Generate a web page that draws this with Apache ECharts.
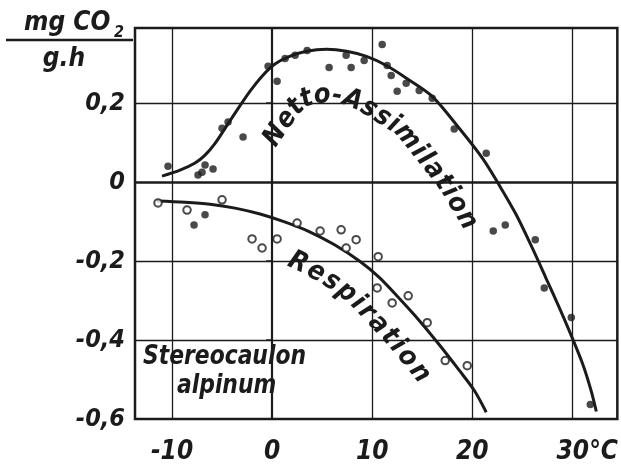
<!DOCTYPE html>
<html>
<head>
<meta charset="utf-8">
<script src="https://cdn.jsdelivr.net/npm/echarts@6/dist/echarts.min.js"></script>
<style>
  html, body { margin: 0; padding: 0; background: #fff; }
  #chart { width: 621px; height: 476px; }
</style>
</head>
<body>
<div id="chart"></div>
<script>
// axis ticks
const xTicks = [-10, 0, 10, 20, 30];
const yTicks = [0.2, 0, -0.2, -0.4, -0.6];

// Netto-Assimilation, measured points (filled dots)
const nettoT = [-10.4, -7.4, -6.7, -5.9, -7.0, -5.0, -4.4, -2.9, -0.4, 0.5, 1.3, 2.3, 3.5, 5.7, 7.4, 7.9, 9.2, 11.0, 11.5, 11.9, 12.5, 13.4, 14.7, 16.0, 18.2, 21.4, 22.1, 23.3, 26.3, 27.2, 29.9, 31.8];
const nettoV = [0.040, 0.018, 0.043, 0.033, 0.025, 0.136, 0.152, 0.114, 0.293, 0.255, 0.313, 0.321, 0.333, 0.290, 0.321, 0.290, 0.308, 0.348, 0.295, 0.270, 0.230, 0.250, 0.232, 0.212, 0.134, 0.073, -0.124, -0.109, -0.146, -0.268, -0.343, -0.563];

// Netto-Assimilation, fitted curve
const nettoCurveT = [-11.0, -9.2, -7.7, -6.7, -5.7, -4.7, -3.5, -2.2, -1.0, 0.25, 1.75, 3.45, 5.44, 7.44, 9.43, 11.42, 13.42, 16.0, 18.7, 21.0, 22.7, 24.4, 26.0, 27.4, 28.7, 29.9, 31.1, 31.9, 32.4];
const nettoCurveV = [0.015, 0.030, 0.048, 0.068, 0.098, 0.136, 0.182, 0.230, 0.268, 0.298, 0.318, 0.331, 0.336, 0.331, 0.318, 0.295, 0.263, 0.217, 0.136, 0.061, -0.008, -0.083, -0.167, -0.245, -0.318, -0.389, -0.465, -0.530, -0.581];

// Respiration, measured points (open circles)
const respT = [-11.4, -8.5, -5.0, -2.0, -1.0, 0.5, 2.5, 4.8, 6.9, 8.4, 7.4, 10.6, 10.5, 12.0, 13.6, 15.5, 17.3, 19.5];
const respV = [-0.053, -0.071, -0.045, -0.144, -0.167, -0.144, -0.104, -0.124, -0.121, -0.146, -0.167, -0.189, -0.268, -0.306, -0.288, -0.356, -0.452, -0.465];
// Respiration, filled dots
const respFilledT = [-6.7, -7.8];
const respFilledV = [-0.083, -0.109];

// Respiration, fitted curve
const respCurveT = [-11.5, -8.7, -6.2, -3.7, -1.2, 1.25, 3.75, 6.24, 8.73, 10.73, 12.72, 14.72, 16.71, 18.71, 20.21, 21.4];
const respCurveV = [-0.048, -0.051, -0.056, -0.066, -0.081, -0.101, -0.126, -0.159, -0.200, -0.242, -0.295, -0.351, -0.412, -0.477, -0.528, -0.583];

const INK = '#1b1b1b';
const FONT = "'Liberation Sans Narrow', 'DejaVu Sans Condensed', 'Liberation Sans', sans-serif";

const zip = (a, b) => a.map((v, i) => [v, b[i]]);
const fmt = v => (v === 0 ? '0' : String(v).replace('.', ','));

const chart = echarts.init(document.getElementById('chart'));

const option = {
  animation: false,
  backgroundColor: '#fff',
  grid: {
    left: 135, right: 3, top: 28, bottom: 57,
    show: true, borderColor: INK, borderWidth: 2.5, backgroundColor: 'transparent'
  },
  xAxis: {
    type: 'value', min: -13.7, max: 34.5,
    axisLine: { show: false },
    splitLine: { show: false },
    axisTick: { show: true, customValues: [0], length: 8, lineStyle: { color: INK, width: 2 } },
    axisLabel: {
      customValues: xTicks, margin: 20,
      fontFamily: FONT, fontStyle: 'italic', fontWeight: 'bold', fontSize: 26, color: INK,
      formatter: v => (v === 30 ? '{u|30°C}' : fmt(v)),
      rich: { u: { fontFamily: FONT, fontStyle: 'italic', fontWeight: 'bold', fontSize: 26, color: INK, padding: [0, 0, 0, 30] } }
    }
  },
  yAxis: {
    type: 'value', min: -0.6, max: 0.39,
    axisLine: { show: false },
    splitLine: { show: false },
    axisTick: { show: true, customValues: [0.2, -0.2, -0.4], length: 6, lineStyle: { color: INK, width: 1.5 } },
    axisLabel: {
      customValues: yTicks, margin: 10,
      fontFamily: FONT, fontStyle: 'italic', fontWeight: 'bold', fontSize: 25, color: INK,
      formatter: fmt
    }
  },
  series: [
    {
      type: 'line', name: 'Netto-Assimilation', smooth: 0.3, showSymbol: false,
      data: zip(nettoCurveT, nettoCurveV),
      lineStyle: { color: INK, width: 3 },
      z: 3,
      markLine: {
        silent: true, symbol: 'none', label: { show: false },
        data: xTicks.map(v => ({ xAxis: v, lineStyle: { color: INK, type: 'solid', width: v === 0 ? 2.2 : 1.3 } }))
          .concat(yTicks.slice(0, 4).map(v => ({ yAxis: v, lineStyle: { color: INK, type: 'solid', width: v === 0 ? 2.6 : 1.3 } })))
      }
    },
    {
      type: 'line', name: 'Respiration', smooth: 0.3, showSymbol: false,
      data: zip(respCurveT, respCurveV),
      lineStyle: { color: INK, width: 3 },
      z: 3
    },
    {
      type: 'scatter', data: zip(nettoT, nettoV), symbolSize: 7.5,
      itemStyle: { color: INK }, z: 4
    },
    {
      type: 'scatter', data: zip(respFilledT, respFilledV), symbolSize: 7.5,
      itemStyle: { color: INK }, z: 4
    },
    {
      type: 'scatter', data: zip(respT, respV), symbolSize: 7.5,
      itemStyle: { color: '#fff', borderColor: INK, borderWidth: 2 }, z: 4
    }
  ]
};
chart.setOption(option);

// ---- lettering that follows the curves ----
const ctx = document.createElement('canvas').getContext('2d');

function densify(p, n) {
  const out = [];
  for (let i = 0; i < p.length - 1; i++) {
    const p0 = p[Math.max(i - 1, 0)], p1 = p[i], p2 = p[i + 1], p3 = p[Math.min(i + 2, p.length - 1)];
    for (let k = 0; k < n; k++) {
      const t = k / n, t2 = t * t, t3 = t2 * t;
      out.push([0, 1].map(j => 0.5 * ((2 * p1[j]) + (-p0[j] + p2[j]) * t +
        (2 * p0[j] - 5 * p1[j] + 4 * p2[j] - p3[j]) * t2 + (-p0[j] + 3 * p1[j] - 3 * p2[j] + p3[j]) * t3)));
    }
  }
  out.push(p[p.length - 1]);
  return out;
}

function curveText(T, V, text, startData, endData, offset, fontSize) {
  const px = densify(zip(T, V).map(d => chart.convertToPixel({ gridIndex: 0 }, d)), 20);
  const off = px.map((p, i) => {
    const a = px[Math.max(i - 3, 0)], b = px[Math.min(i + 3, px.length - 1)];
    const dx = b[0] - a[0], dy = b[1] - a[1], l = Math.hypot(dx, dy) || 1;
    return [p[0] - dy / l * offset, p[1] + dx / l * offset];
  });
  const s = [0];
  for (let i = 1; i < off.length; i++) s.push(s[i - 1] + Math.hypot(off[i][0] - off[i - 1][0], off[i][1] - off[i - 1][1]));
  const nearest = d => {
    const q = chart.convertToPixel({ gridIndex: 0 }, d);
    let bi = 0, bd = Infinity;
    off.forEach((p, i) => { const dd = Math.hypot(p[0] - q[0], p[1] - q[1]); if (dd < bd) { bd = dd; bi = i; } });
    return s[bi];
  };
  const at = len => {
    let i = 1;
    while (i < s.length - 1 && s[i] < len) i++;
    const a = off[Math.max(i - 4, 0)], b = off[Math.min(i + 3, off.length - 1)];
    const f = (len - s[i - 1]) / ((s[i] - s[i - 1]) || 1);
    const p = off[i - 1], q = off[i];
    return { x: p[0] + (q[0] - p[0]) * f, y: p[1] + (q[1] - p[1]) * f, ang: Math.atan2(b[1] - a[1], b[0] - a[0]) };
  };
  ctx.font = `italic bold ${fontSize}px ${FONT}`;
  const chars = text.split('');
  const w = chars.map(c => ctx.measureText(c).width);
  const s0 = nearest(startData), s1 = nearest(endData);
  const sumInner = w.reduce((a, b) => a + b, 0) - w[0] / 2 - w[w.length - 1] / 2;
  const gap = (s1 - s0 - sumInner) / (chars.length - 1);
  let cur = s0 - w[0] / 2;
  return chars.map((c, i) => {
    const p = at(cur + w[i] / 2);
    cur += w[i] + gap;
    return {
      type: 'text', x: p.x, y: p.y, rotation: -p.ang, silent: true, z: 10,
      style: { text: c, x: 0, y: 0, align: 'center', verticalAlign: 'middle',
        fontFamily: FONT, fontStyle: 'italic', fontWeight: 'bold', fontSize: fontSize, fill: INK }
    };
  });
}

const labelStyle = size => ({ fontFamily: FONT, fontStyle: 'italic', fontWeight: 'bold', fontSize: size, fill: INK });

chart.setOption({
  graphic: [
    { type: 'text', x: 24, y: 23, style: Object.assign({ text: 'mg CO', verticalAlign: 'middle' }, labelStyle(26)) },
    { type: 'text', x: 114, y: 33, style: Object.assign({ text: '2', verticalAlign: 'middle' }, labelStyle(16)) },
    { type: 'line', shape: { x1: 6, y1: 40, x2: 133, y2: 40 }, style: { stroke: INK, lineWidth: 2.5 } },
    { type: 'text', x: 64, y: 59, style: Object.assign({ text: 'g.h', align: 'center', verticalAlign: 'middle' }, labelStyle(26)) },
    { type: 'text', x: 143, y: 357, scaleX: 0.9, style: Object.assign({ text: 'Stereocaulon', verticalAlign: 'middle' }, labelStyle(27)) },
    { type: 'text', x: 177, y: 386, scaleX: 0.9, style: Object.assign({ text: 'alpinum', verticalAlign: 'middle' }, labelStyle(27)) }
  ]
    .concat(curveText(nettoCurveT, nettoCurveV, 'Netto-Assimilation', [-0.2, 0.125], [19.4, -0.096], 46, 27))
    .concat(curveText(respCurveT, respCurveV, 'Respiration', [2.55, -0.205], [14.9, -0.48], 33, 27))
});
</script>
</body>
</html>
